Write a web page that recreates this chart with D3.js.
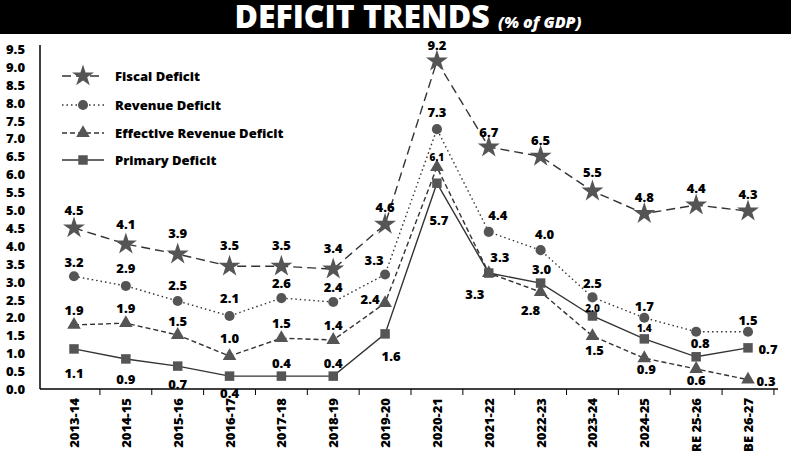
<!DOCTYPE html>
<html><head><meta charset="utf-8">
<script src="https://cdn.jsdelivr.net/npm/d3@7"></script>
<style>body{margin:0;background:#fff}text{font-family:"Open Sans",sans-serif;font-weight:800}</style>
</head><body><svg id="c" width="791" height="469"></svg>
<script>
var years = ["2013-14","2014-15","2015-16","2016-17","2017-18","2018-19","2019-20","2020-21","2021-22","2022-23","2023-24","2024-25","RE 25-26","BE 26-27"];
var yTicks = d3.range(0, 9.51, 0.5);
// plotted values (as drawn) and printed labels
var fiscal = [4.5,4.05,3.77,3.43,3.43,3.35,4.6,9.16,6.76,6.5,5.53,4.9,5.14,4.97];
var fiscalLbl = ["4.5","4.1","3.9","3.5","3.5","3.4","4.6","9.2","6.7","6.5","5.5","4.8","4.4","4.3"];
var revenue = [3.15,2.88,2.46,2.04,2.54,2.43,3.2,7.26,4.39,3.88,2.56,1.99,1.6,1.6];
var revenueLbl = ["3.2","2.9","2.5","2.1","2.6","2.4","3.3","7.3","4.4","4.0","2.5","1.7","0.8","1.5"];
var effective = [1.79,1.84,1.51,0.92,1.42,1.37,2.4,6.2,3.24,2.71,1.48,0.86,0.56,0.26];
var effectiveLbl = ["1.9","1.9","1.5","1.0","1.5","1.4","2.4","6.1","3.3","2.8","1.5","0.9","0.6","0.3"];
var primary = [1.12,0.84,0.64,0.36,0.36,0.36,1.54,5.75,3.24,2.96,2.04,1.4,0.9,1.15];
var primaryLbl = ["1.1","0.9","0.7","0.4","0.4","0.4","1.6","5.7","3.3","3.0","2.0","1.4","","0.7"];

var svg = d3.select("#c");
var x = d3.scalePoint().domain(years).range([74, 748]);
var y = d3.scaleLinear().domain([0, 9.5]).range([389, 49]);

svg.append("rect").attr("width", 791).attr("height", 34).attr("fill", "#000");
var t = svg.append("text").attr("x", 408).attr("y", 28).attr("text-anchor", "middle").attr("fill", "#fff");
t.append("tspan").text("DEFICIT TRENDS ").style("font-size", "32px").style("font-weight", 900);
t.append("tspan").text("(% of GDP)").style("font-size", "16px").style("font-style", "italic");

// y axis
svg.append("line").attr("x1", 40).attr("x2", 40).attr("y1", 45).attr("y2", 389).attr("stroke", "#000").attr("stroke-width", 1.5);
svg.selectAll(".yt").data(yTicks).enter().append("text")
  .attr("x", 6).attr("y", function (d) { return y(d) + 5; })
  .style("font-size", "13px").text(function (d) { return d.toFixed(1); });
// x axis
svg.append("line").attr("x1", 40).attr("x2", 778).attr("y1", 389).attr("y2", 389).attr("stroke", "#000").attr("stroke-width", 1.5);
var step = x.step();
svg.selectAll(".xt").data(years).enter().append("line")
  .attr("x1", function (d) { return x(d) + step / 2; }).attr("x2", function (d) { return x(d) + step / 2; })
  .attr("y1", 389).attr("y2", 395).attr("stroke", "#000");
svg.selectAll(".xl").data(years).enter().append("text")
  .attr("transform", function (d) { return "translate(" + (x(d) + 5) + ",398) rotate(-90)"; })
  .attr("text-anchor", "end").style("font-size", "13px").text(function (d) { return d; });

var series = [
  {name: "Fiscal Deficit", v: fiscal, l: fiscalLbl, dash: "9,5", sym: d3.symbolStar, size: 150,
   off: [[0,-18],[0,-20],[0,-21],[0,-21],[0,-21],[0,-21],[0,-17],[0,-16],[0,-15],[0,-16],[0,-19],[0,-17],[0,-17],[0,-17]]},
  {name: "Revenue Deficit", v: revenue, l: revenueLbl, dash: "1.5,3", sym: d3.symbolCircle, size: 80,
   off: [[0,-14],[0,-18],[0,-16],[0,-18],[0,-15],[0,-15],[-11,-14],[0,-17],[9,-17],[4,-16],[0,-14],[0,-12],[4,11],[0,-12]]},
  {name: "Effective Revenue Deficit", v: effective, l: effectiveLbl, dash: "5,3", sym: d3.symbolTriangle, size: 80,
   off: [[0,-15],[0,-15],[0,-14],[0,-18],[0,-15],[0,-15],[-15,-4],[0,-11],[-14,21],[-10,18],[2,14],[2,11],[0,11],[18,1]]},
  {name: "Primary Deficit", v: primary, l: primaryLbl, dash: null, sym: d3.symbolSquare, size: 90,
   off: [[0,24],[0,20],[0,18],[0,17],[0,-13],[0,-13],[6,22],[2,37],[11,-16],[1,-14],[0,-9],[0,-12],[0,0],[20,1]]}
];
var small = {"2-7": 1, "3-10": 1, "3-11": 1};

series.forEach(function (s, si) {
  var line = d3.line().x(function (d, i) { return x(years[i]); }).y(function (d) { return y(d); });
  svg.append("path").datum(s.v).attr("d", line).attr("fill", "none").attr("stroke", "#333")
    .attr("stroke-width", 1.4).attr("stroke-dasharray", s.dash);
  svg.selectAll(".m" + si).data(s.v).enter().append("path")
    .attr("d", d3.symbol().type(s.sym).size(s.size))
    .attr("transform", function (d, i) { return "translate(" + x(years[i]) + "," + y(d) + ")"; })
    .attr("fill", "#555");
  svg.selectAll(".l" + si).data(s.v).enter().append("text")
    .attr("x", function (d, i) { return x(years[i]) + s.off[i][0]; })
    .attr("y", function (d, i) { return y(d) + s.off[i][1] + 5; })
    .attr("text-anchor", "middle")
    .style("font-size", function (d, i) { return small[si + "-" + i] ? "10px" : "13px"; })
    .text(function (d, i) { return s.l[i]; });
  // legend
  var ly = [76, 105, 133, 160][si];
  svg.append("line").attr("x1", 62).attr("x2", 104).attr("y1", ly).attr("y2", ly)
    .attr("stroke", "#333").attr("stroke-width", 1.4).attr("stroke-dasharray", s.dash);
  svg.append("path").attr("d", d3.symbol().type(s.sym).size(s.size))
    .attr("transform", "translate(83," + ly + ")").attr("fill", "#555");
  svg.append("text").attr("x", 115).attr("y", ly + 5).style("font-size", "13px").text(s.name);
});
</script></body></html>
